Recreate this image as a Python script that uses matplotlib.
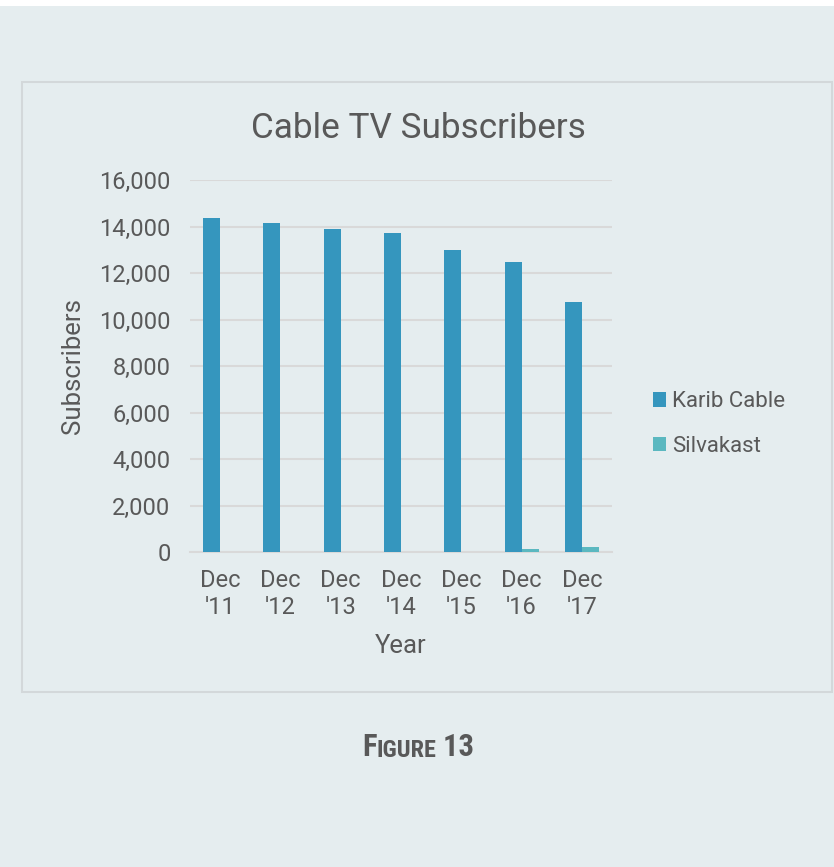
import matplotlib
matplotlib.use("Agg")
import matplotlib.pyplot as plt
from matplotlib.patches import Rectangle
import numpy as np

years = ["Dec\n'11", "Dec\n'12", "Dec\n'13", "Dec\n'14", "Dec\n'15", "Dec\n'16", "Dec\n'17"]
karib_cable = [14380, 14150, 13900, 13700, 12980, 12470, 10750]
silvakast = [0, 0, 0, 0, 0, 110, 230]
y_ticks = [0, 2000, 4000, 6000, 8000, 10000, 12000, 14000, 16000]

bg = "#e5edef"
txt = "#595959"
c_karib = "#3596be"
c_silva = "#5bb8c0"

plt.rcParams["font.family"] = ["Roboto", "DejaVu Sans"]

W, H = 834, 867
fig = plt.figure(figsize=(W / 100, H / 100), dpi=100, facecolor="white")

# page background and chart frame
fig.patches.append(Rectangle((0, 0), 1, 1 - 6 / H, transform=fig.transFigure,
                             facecolor=bg, edgecolor="none", zorder=-2))
fig.patches.append(Rectangle((22 / W, 1 - 692 / H), (832 - 22) / W, (692 - 82) / H,
                             transform=fig.transFigure, facecolor="none",
                             edgecolor="#d3d8da", linewidth=1.5, zorder=-1))

ax = fig.add_axes([190 / W, 1 - 552 / H, (612 - 190) / W, (552 - 180) / H])
ax.set_facecolor("none")

x = np.arange(len(years))
bw = 0.283
ax.bar(x - bw / 2, karib_cable, bw, color=c_karib, label="Karib Cable", zorder=3)
ax.bar(x + bw / 2, silvakast, bw, color=c_silva, label="Silvakast", zorder=3)

ax.set_xlim(-0.5, len(years) - 0.5)
ax.set_ylim(0, 16000)
ax.set_yticks(y_ticks)
ax.set_yticklabels([f"{v:,}" for v in y_ticks])
ax.set_xticks(x)
ax.set_xticklabels(years, linespacing=1.25)
ax.yaxis.grid(True, color="#d9d9d9", linewidth=1.5, zorder=0)
ax.tick_params(axis="both", length=0, labelsize=17, colors=txt)
ax.tick_params(axis="y", pad=14)
ax.tick_params(axis="x", pad=12)
for s in ["top", "right", "left"]:
    ax.spines[s].set_visible(False)
ax.spines["bottom"].set_color("#d9d9d9")
ax.spines["bottom"].set_linewidth(1.5)

ax.set_xlabel("Year", fontsize=18.5, color=txt, labelpad=11)
ax.set_ylabel("Subscribers", fontsize=18.5, color=txt, labelpad=10)
fig.text(418 / W, 1 - 128 / H, "Cable TV Subscribers", fontsize=25.3, color=txt,
         ha="center", va="center")

ax.legend(loc="center left", bbox_to_anchor=(633 / W, 1 - 424 / H),
          bbox_transform=fig.transFigure, frameon=False, fontsize=16,
          labelcolor=txt, handlelength=0.6, handleheight=0.6,
          handletextpad=0.25, labelspacing=1.05)

# small caps caption
cap = ["Roboto Condensed", "Roboto", "DejaVu Sans"]
t1 = fig.text(362 / W, 1 - 756 / H, "F", fontsize=22, color=txt, ha="left",
              va="baseline", fontweight="bold", family=cap)
a2 = fig.add_artist(plt.Annotation("IGURE", xy=(1, 0), xycoords=t1, fontsize=17.5,
                                   color=txt, ha="left", va="bottom",
                                   fontweight="bold", family=cap))
fig.add_artist(plt.Annotation(" 13", xy=(1, 0), xycoords=a2, fontsize=22,
                              color=txt, ha="left", va="bottom",
                              fontweight="bold", family=cap))

fig.savefig("out.png", dpi=100, facecolor="white")
